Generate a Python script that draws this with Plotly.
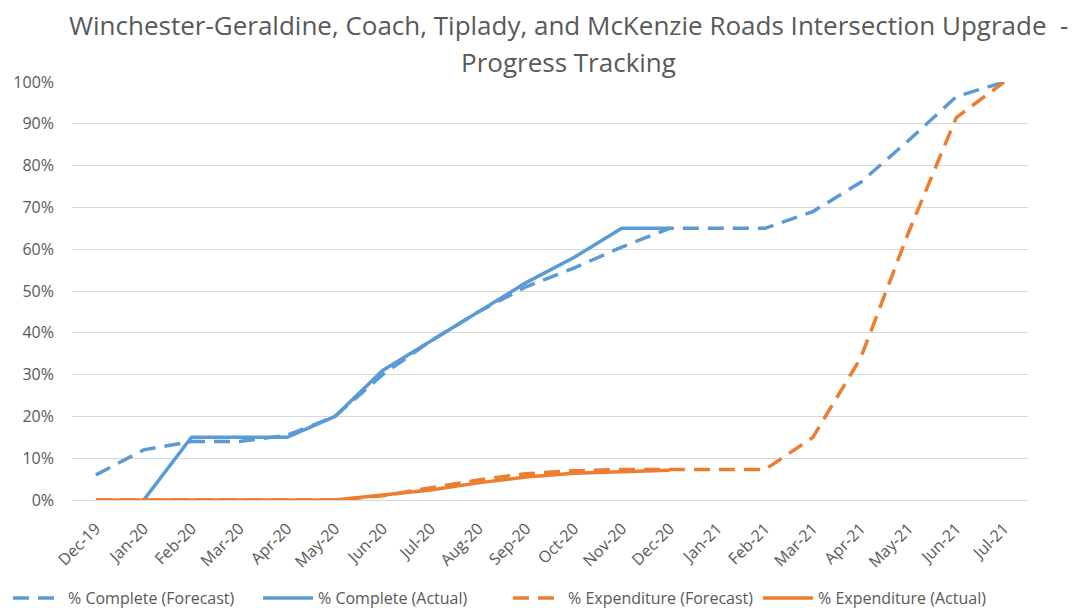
import plotly.graph_objects as go

months = ["Dec-19", "Jan-20", "Feb-20", "Mar-20", "Apr-20", "May-20", "Jun-20", "Jul-20",
          "Aug-20", "Sep-20", "Oct-20", "Nov-20", "Dec-20", "Jan-21", "Feb-21", "Mar-21",
          "Apr-21", "May-21", "Jun-21", "Jul-21"]

complete_forecast = [0.06, 0.12, 0.14, 0.14, 0.155, 0.20, 0.30, 0.38, 0.45, 0.51, 0.555, 0.605,
                     0.65, 0.65, 0.65, 0.69, 0.76, 0.86, 0.965, 1.00]
complete_actual = [None, 0.0, 0.15, 0.15, 0.15, 0.20, 0.31, 0.38, 0.45, 0.52, 0.58, 0.65,
                   0.65, None, None, None, None, None, None, None]
exp_forecast = [0.0, 0.0, 0.0, 0.0, 0.0, 0.0, 0.01, 0.03, 0.048, 0.063, 0.07, 0.073,
                0.073, 0.073, 0.073, 0.15, 0.34, 0.64, 0.915, 1.00]
exp_actual = [0.0, 0.0, 0.0, 0.0, 0.0, 0.0, 0.012, 0.024, 0.041, 0.055, 0.064, 0.068,
              0.071, None, None, None, None, None, None, None]

title_lines = ["Winchester-Geraldine, Coach, Tiplady, and McKenzie Roads Intersection Upgrade  -",
               "Progress Tracking"]

BLUE = "#5B9BD5"
ORANGE = "#ED7D31"
GREY = "#595959"
FONT = "Open Sans"

series = [
    ("% Complete (Forecast)", complete_forecast, BLUE, "16px,9px"),
    ("% Complete (Actual)", complete_actual, BLUE, "solid"),
    ("% Expenditure (Forecast)", exp_forecast, ORANGE, "16px,9px"),
    ("% Expenditure (Actual)", exp_actual, ORANGE, "solid"),
]

# page body has an 8px margin; figure is sized/positioned to compensate
W, H = 1076, 600
L, R, T, B = 64, 56, 74, 108
PH = H - T - B
PW = W - L - R

fig = go.Figure()
for name, vals, color, dash in series:
    fig.add_trace(go.Scatter(
        x=months, y=vals, name=name, mode="lines",
        line=dict(color=color, width=3.5, dash=dash),
        connectgaps=False,
    ))

for i, (line, ymid) in enumerate(zip(title_lines, [17, 54])):
    fig.add_annotation(
        text=line, xref="paper", yref="paper",
        x=(560 - L) / PW, y=1 + (T - ymid) / PH,
        xanchor="center", yanchor="middle", showarrow=False,
        font=dict(family=FONT, size=26, color=GREY),
    )

fig.update_layout(
    width=W, height=H,
    paper_bgcolor="white", plot_bgcolor="white",
    margin=dict(l=L, r=R, t=T, b=B, autoexpand=False),
    font=dict(family=FONT, color=GREY, size=16),
    xaxis=dict(
        type="category", range=[-0.5, 19.5], automargin=False,
        tickangle=-45, showgrid=False, showline=True, linecolor="#d9d9d9",
        ticks="", tickfont=dict(size=16, color=GREY), ticklabelstandoff=12,
    ),
    yaxis=dict(
        range=[0, 1], tickformat=".0%", dtick=0.1, automargin=False,
        showgrid=True, gridcolor="#d9d9d9", gridwidth=1,
        zeroline=False, showline=False, ticks="",
        tickfont=dict(size=16, color=GREY), ticklabelstandoff=17,
    ),
    legend=dict(
        orientation="h", xref="paper", yref="paper",
        x=-L / PW, xanchor="left", y=1 - (590 - T) / PH, yanchor="middle",
        font=dict(size=16, color=GREY), entrywidth=185, itemwidth=50,
        traceorder="normal",
    ),
    showlegend=True,
)

fig.write_html("out.html")
